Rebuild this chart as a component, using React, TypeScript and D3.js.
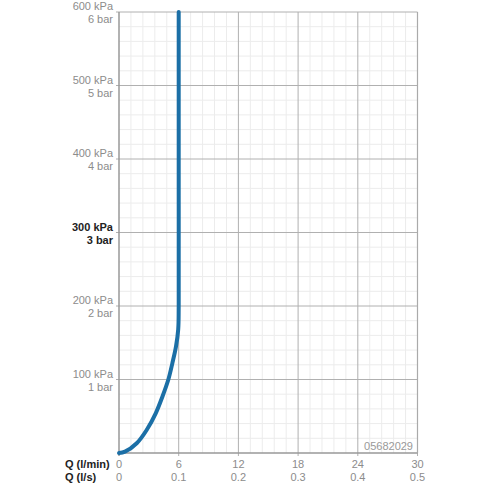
import React from "react";
import * as d3 from "d3";

const flowLpm: number[] = [0, 0.6, 1.78, 2.78, 3.69, 4.36, 4.96, 5.36, 5.73, 5.95, 6.0, 6.0, 6.0];
const pressureKpa: number[] = [0, 1.8, 13.2, 31.3, 54, 76.6, 100, 122, 145, 168, 200, 350, 600];

const xTicksLpm: number[] = [0, 6, 12, 18, 24, 30];
const xTicksLs: string[] = ["0", "0.1", "0.2", "0.3", "0.4", "0.5"];
const yTicksKpa: number[] = [100, 200, 300, 400, 500, 600];
const yTicksBar: string[] = ["1 bar", "2 bar", "3 bar", "4 bar", "5 bar", "6 bar"];
const highlightKpa = 300;
const codeLabel = "05682029";

export default function App() {
  const W = 489, H = 489;
  const left = 119, right = 417.5, top = 12, bottom = 453;
  const x = d3.scaleLinear().domain([0, 30]).range([left, right]);
  const y = d3.scaleLinear().domain([0, 600]).range([bottom, top]);
  const font = "'Liberation Sans', Arial, Helvetica, sans-serif";
  const gray = "#8c8c8c";

  const minorX = d3.range(0, 30.001, 1.2).filter((v) => Math.abs(v / 6 - Math.round(v / 6)) > 1e-6);
  const minorY = d3.range(0, 600.001, 20).filter((v) => v % 100 !== 0);

  const line = d3
    .line<number>()
    .x((_, i) => x(flowLpm[i]))
    .y((d) => y(d))
    .curve(d3.curveCatmullRom.alpha(0.5));

  return (
    <svg width={W} height={H} style={{ position: "absolute", left: 0, top: 0, background: "#fff" }} fontFamily={font}>
      {minorX.map((v) => (
        <line key={"mx" + v} x1={x(v)} x2={x(v)} y1={top} y2={bottom} stroke="#ececec" strokeWidth={1} />
      ))}
      {minorY.map((v) => (
        <line key={"my" + v} x1={left} x2={right} y1={y(v)} y2={y(v)} stroke="#ececec" strokeWidth={1} />
      ))}
      {xTicksLpm.slice(1).map((v) => (
        <line key={"Mx" + v} x1={x(v)} x2={x(v)} y1={top} y2={bottom + 3} stroke="#b0b0b0" strokeWidth={1} />
      ))}
      {yTicksKpa.map((v) => (
        <line key={"My" + v} x1={left - 3} x2={right} y1={y(v)} y2={y(v)} stroke="#b0b0b0" strokeWidth={1} />
      ))}
      <line x1={left} x2={left} y1={top} y2={bottom + 3} stroke="#999" strokeWidth={1.5} />
      <line x1={left} x2={right} y1={bottom} y2={bottom} stroke="#999" strokeWidth={1.5} />
      <line x1={right} x2={right} y1={top} y2={bottom} stroke="#aaa" strokeWidth={1.2} />

      {yTicksKpa.map((v, i) => {
        const hl = v === highlightKpa;
        return (
          <g key={"yl" + v} fill={hl ? "#222" : gray} fontSize={11} fontWeight={hl ? "bold" : "normal"} textAnchor="end">
            <text x={113} y={y(v) - 2}>{v} kPa</text>
            <text x={113} y={y(v) + 11}>{yTicksBar[i]}</text>
          </g>
        );
      })}

      <text x={65} y={468} fontSize={11} fontWeight="bold" fill="#222">Q (l/min)</text>
      <text x={65} y={481} fontSize={11} fontWeight="bold" fill="#222">Q (l/s)</text>
      {xTicksLpm.map((v, i) => (
        <g key={"xl" + v} fill={gray} fontSize={11} textAnchor="middle">
          <text x={x(v)} y={468}>{v}</text>
          <text x={x(v)} y={481}>{xTicksLs[i]}</text>
        </g>
      ))}

      <text x={413} y={450} fontSize={11} fill="#999" textAnchor="end">{codeLabel}</text>

      <path d={line(pressureKpa) || ""} fill="none" stroke="#1b6fa6" strokeWidth={4} strokeLinecap="round" />
    </svg>
  );
}
